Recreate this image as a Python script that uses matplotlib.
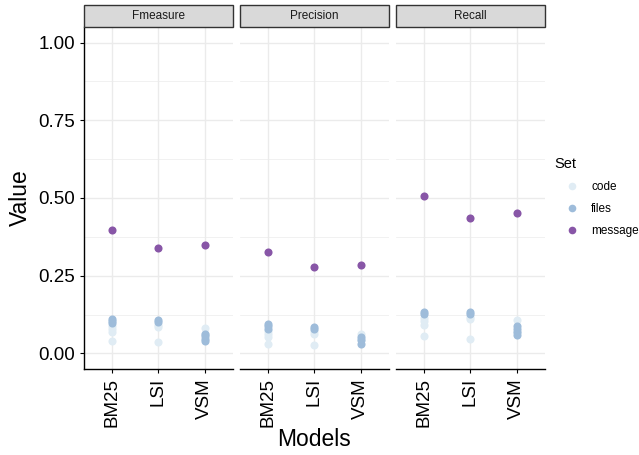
import matplotlib
matplotlib.use("Agg")
import matplotlib.pyplot as plt
from matplotlib.lines import Line2D
from matplotlib.patches import Rectangle

plt.rcParams['font.family'] = ['Liberation Sans', 'DejaVu Sans']

models = ["BM25", "LSI", "VSM"]
metrics = ["Fmeasure", "Precision", "Recall"]
sets = ["code", "files", "message"]
set_colors = ["#e0ecf4", "#9ebcda", "#8856a7"]

# several runs per model for code / files, one for message
fmeasure_code = [[0.088, 0.078, 0.070, 0.040], [0.093, 0.086, 0.036], [0.083, 0.062]]
fmeasure_files = [[0.112, 0.104, 0.097], [0.107, 0.100], [0.064, 0.055, 0.046, 0.040]]
fmeasure_message = [0.396, 0.340, 0.348]

precision_code = [[0.072, 0.062, 0.052, 0.029], [0.072, 0.064, 0.027], [0.063, 0.045]]
precision_files = [[0.095, 0.088, 0.080], [0.086, 0.078], [0.052, 0.042, 0.030]]
precision_message = [0.325, 0.278, 0.283]

recall_code = [[0.115, 0.105, 0.093, 0.056], [0.118, 0.112, 0.048], [0.109, 0.070]]
recall_files = [[0.134, 0.127], [0.134, 0.127], [0.088, 0.078, 0.068, 0.058]]
recall_message = [0.507, 0.436, 0.452]

panel_data = [
    (fmeasure_code, fmeasure_files, fmeasure_message),
    (precision_code, precision_files, precision_message),
    (recall_code, recall_files, recall_message),
]

W, H = 639, 455
fig = plt.figure(figsize=(W / 100, H / 100), dpi=100)

left, top, bottom = 84, 27, 369
pw, gap = 148.5, 7.5
grid_col = "#ebebeb"
pt_size = 34

for i, (metric, (code, files, message)) in enumerate(zip(metrics, panel_data)):
    x0 = left + i * (pw + gap)
    ax = fig.add_axes([x0 / W, 1 - bottom / H, pw / W, (bottom - top) / H])
    ax.set_xlim(0.4, 3.6)
    ax.set_ylim(-0.05, 1.05)
    ax.set_yticks([0, 0.25, 0.5, 0.75, 1.0])
    ax.set_yticks([0.125, 0.375, 0.625, 0.875], minor=True)
    ax.set_xticks([1, 2, 3])
    ax.set_xticklabels(models, rotation=90, fontsize=13.5)
    ax.grid(True, which="major", color=grid_col, linewidth=1.0, zorder=0)
    ax.grid(True, which="minor", axis="y", color=grid_col, linewidth=0.5, zorder=0)
    ax.set_axisbelow(True)
    for s in ["top", "right"]:
        ax.spines[s].set_visible(False)
    ax.spines["bottom"].set_linewidth(1.0)
    ax.spines["left"].set_linewidth(1.0)
    ax.tick_params(which="minor", length=0)
    ax.tick_params(which="major", length=3, width=0.8, color="black", labelcolor="black")
    if i == 0:
        ax.set_yticklabels(["0.00", "0.25", "0.50", "0.75", "1.00"], fontsize=13.5)
    else:
        ax.spines["left"].set_visible(False)
        ax.tick_params(axis="y", which="both", left=False, labelleft=False)

    for j in range(len(models)):
        ax.scatter([j + 1] * len(code[j]), code[j], s=pt_size, color=set_colors[0],
                   linewidths=0, zorder=3)
        ax.scatter([j + 1] * len(files[j]), files[j], s=pt_size, color=set_colors[1],
                   linewidths=0, zorder=3)
    ax.scatter([1, 2, 3], message, s=pt_size, color=set_colors[2], linewidths=0, zorder=3)

    # facet strip
    strip = fig.add_axes([x0 / W, 1 - top / H, pw / W, 22 / H])
    strip.set_xlim(0, 1)
    strip.set_ylim(0, 1)
    strip.axis("off")
    strip.add_patch(Rectangle((0, 0), 1, 1, facecolor="#d9d9d9", edgecolor="#333333",
                              linewidth=1.0, transform=strip.transAxes, clip_on=False))
    strip.text(0.5, 0.5, metric, ha="center", va="center", fontsize=8.5, color="#1a1a1a")

fig.text((left + (3 * pw + 2 * gap) / 2) / W, 1 - 439 / H, "Models", ha="center",
         va="center", fontsize=16.5)
fig.text(20 / W, 1 - 198 / H, "Value", ha="center", va="center", rotation=90, fontsize=16.5)

handles = [Line2D([], [], linestyle="", marker="o", markersize=5.5, markeredgewidth=0,
                  color=c) for c in set_colors]
leg = fig.legend(handles, sets, title="Set", loc="upper left",
                 bbox_to_anchor=(544 / W, 1 - 146 / H), frameon=False, fontsize=8.5,
                 title_fontsize=10.5, handletextpad=0.2, labelspacing=0.85,
                 handlelength=2.9)
leg._legend_box.align = "left"

fig.savefig("out.png", dpi=100)
